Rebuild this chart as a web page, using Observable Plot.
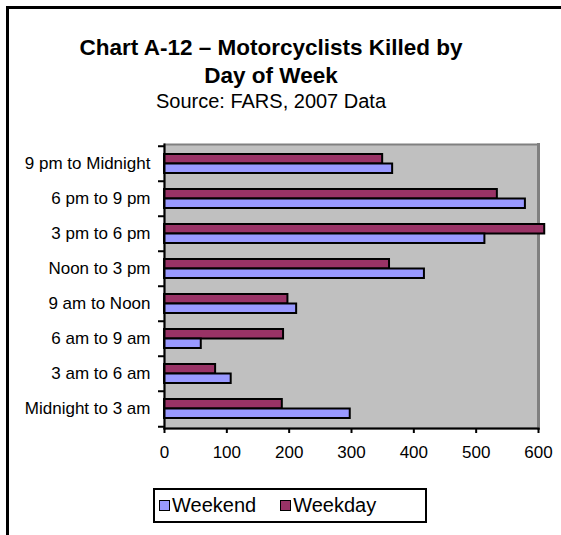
<!DOCTYPE html>
<html><head><meta charset="utf-8">
<script src="https://cdn.jsdelivr.net/npm/d3@7"></script>
<script src="https://cdn.jsdelivr.net/npm/@observablehq/plot@0.6"></script>
<style>
body{margin:0;background:#fff;font-family:"Liberation Sans",Arial,sans-serif;color:#000}
#wrap{position:relative;width:561px;height:535px;overflow:hidden;background:#fff}
#frame{position:absolute;left:6px;top:6px;width:800px;height:800px;border:3px solid #000;box-sizing:border-box}
#title{position:absolute;left:0;width:542px;top:34px;text-align:center;font-weight:bold;font-size:22.5px;line-height:28px}
#sub{position:absolute;left:0;width:542px;top:89px;text-align:center;font-size:20px;line-height:24px}
#chart{position:absolute;left:0;top:120px}
#legend{position:absolute;left:153px;top:488px;width:274px;height:35px;border:2px solid #000;box-sizing:border-box;display:flex;align-items:center;padding-left:4px;font-size:20px;background:#fff}
.item{display:flex;align-items:center;margin-right:24px}
.sw{width:11px;height:11px;border:1.5px solid #000;margin-right:2px;box-sizing:border-box}
</style></head>
<body>
<div id="wrap">
<div id="frame"></div>
<div id="title">Chart A-12 – Motorcyclists Killed by<br>Day of Week</div>
<div id="sub">Source: FARS, 2007 Data</div>
<div id="chart"></div>
<div id="legend"></div>
</div>
<script>
const categories = ["9 pm to Midnight","6 pm to 9 pm","3 pm to 6 pm","Noon to 3 pm","9 am to Noon","6 am to 9 am","3 am to 6 am","Midnight to 3 am"];
const weekend = [366,579,514,417,212,59,107,298];
const weekday = [350,534,610,361,198,191,82,189];
const xTicks = [0,100,200,300,400,500,600];
const seriesNames = ["Weekend","Weekday"];
const seriesColors = ["#9999FF","#993366"];

const rows = [];
categories.forEach((c,i)=>{
  rows.push({category:c, series:"Weekend", value:weekend[i]});
  rows.push({category:c, series:"Weekday", value:weekday[i]});
});

const chart = Plot.plot({
  width:561, height:360,
  marginTop:24, marginBottom:52, marginLeft:164, marginRight:23,
  style:{fontFamily:"'Liberation Sans', Arial, sans-serif", fontSize:"17px", color:"#000", background:"transparent", overflow:"visible"},
  x:{domain:[0,600], ticks:xTicks, label:null},
  y:{domain:categories, padding:0, label:null},
  color:{domain:seriesNames, range:seriesColors},
  marks:[
    Plot.frame({fill:"#C0C0C0", stroke:"#808080", strokeWidth:2}),
    Plot.frame({anchor:"right", stroke:"#808080", strokeWidth:3}),
    Plot.barX(rows.filter(d=>d.series==="Weekday"), {x:"value", y:"category", fill:"series", stroke:"#000", strokeWidth:2, insetTop:8, insetBottom:17.5}),
    Plot.barX(rows.filter(d=>d.series==="Weekend"), {x:"value", y:"category", fill:"series", stroke:"#000", strokeWidth:2, insetTop:17.5, insetBottom:8}),
    Plot.frame({anchor:"left", stroke:"#000", strokeWidth:2}),
    Plot.frame({anchor:"bottom", stroke:"#000", strokeWidth:2}),
    Plot.axisX({ticks:xTicks, tickSize:5, tickPadding:12, label:null, strokeWidth:2}),
    Plot.axisY({tickSize:0, tickPadding:14, label:null}),
    Plot.axisY({text:null, tickSize:6, dy:-17.75, strokeWidth:2, label:null}),
    Plot.axisY([categories[categories.length-1]], {text:null, tickSize:6, dy:17.75, strokeWidth:2, label:null})
  ]
});
document.getElementById("chart").appendChild(chart);

const leg = document.getElementById("legend");
seriesNames.forEach((s,i)=>{
  const it = document.createElement("div"); it.className="item";
  const sw = document.createElement("span"); sw.className="sw"; sw.style.background=seriesColors[i];
  const tx = document.createElement("span"); tx.textContent=s;
  it.appendChild(sw); it.appendChild(tx); leg.appendChild(it);
});
</script>
</body></html>
